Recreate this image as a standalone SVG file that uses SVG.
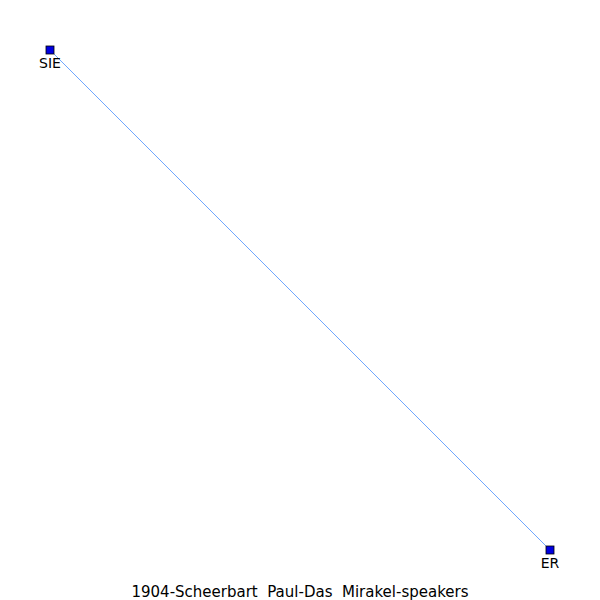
<svg xmlns="http://www.w3.org/2000/svg" width="600" height="600" viewBox="0 0 600 600">
<style>
.node rect{fill:#0000e0;stroke:#000;stroke-width:0.8}
.lbl{font-family:"DejaVu Sans",sans-serif;font-size:14px;fill:#000;text-anchor:middle}
.title{font-size:15px}
.edge{stroke:#4a90ff;stroke-width:0.8;fill:none}
</style>
<rect width="600" height="600" fill="#fff"/>
<g id="edges">
<line class="edge" x1="50" y1="50" x2="550" y2="550"/>
</g>
<g id="SIE" class="node">
<rect x="46" y="46" width="8" height="8"/>
<text class="lbl" x="50" y="68">SIE</text>
</g>
<g id="ER" class="node">
<rect x="546" y="546" width="8" height="8"/>
<text class="lbl" x="550" y="568">ER</text>
</g>
<text class="lbl title" x="300" y="597" xml:space="preserve">1904-Scheerbart  Paul-Das  Mirakel-speakers</text>
</svg>
